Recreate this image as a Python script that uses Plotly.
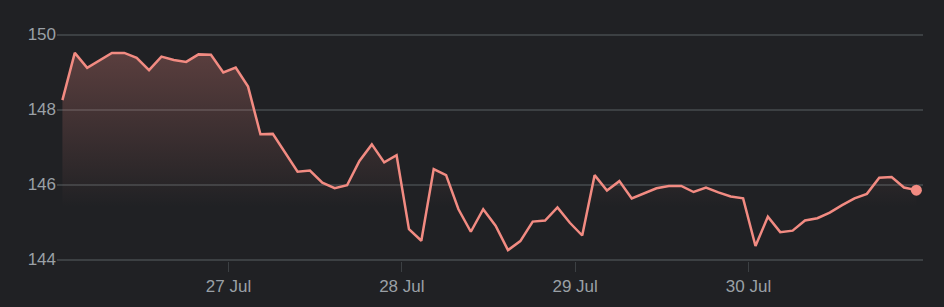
import pandas as pd
import plotly.graph_objects as go

# ---- data ----
prices = [
    148.25, 149.51, 149.11, 149.32, 149.51, 149.51, 149.38, 149.05, 149.41, 149.32,
    149.27, 149.47, 149.46, 148.99, 149.12, 148.61, 147.34, 147.35, 146.83, 146.34,
    146.37, 146.05, 145.90, 145.98, 146.63, 147.07, 146.59, 146.78, 144.81, 144.50,
    146.41, 146.25, 145.34, 144.74, 145.34, 144.90, 144.25, 144.49, 145.01, 145.04,
    145.39, 144.98, 144.64, 146.25, 145.84, 146.09, 145.63, 145.77, 145.90, 145.96,
    145.96, 145.80, 145.92, 145.79, 145.68, 145.63, 144.36, 145.14, 144.73, 144.77,
    145.04, 145.10, 145.25, 145.45, 145.63, 145.75, 146.18, 146.20, 145.92, 145.85,
]
times = pd.date_range(start="2024-07-26 01:00", end="2024-07-30 23:15", periods=len(prices))

tick_dates = ["2024-07-27", "2024-07-28", "2024-07-29", "2024-07-30"]
tick_labels = ["27 Jul", "28 Jul", "29 Jul", "30 Jul"]
y_ticks = [144, 146, 148, 150]
y_tick_labels = ["144", "146", "148", "150"]

# ---- style ----
BG = "#202124"
LINE = "#f28b82"
GRID = "#3c4043"
TEXT = "#9aa0a6"

fig = go.Figure()
fig.add_trace(go.Scatter(
    x=times, y=prices, mode="lines",
    line=dict(color=LINE, width=2.5),
    fill="tozeroy",
    fillgradient=dict(
        type="vertical", start=145.4, stop=149.55,
        colorscale=[[0, "rgba(242,139,130,0)"], [1, "rgba(242,139,130,0.28)"]],
    ),
    hoverinfo="skip",
))
fig.add_trace(go.Scatter(
    x=[times[-1]], y=[prices[-1]], mode="markers",
    marker=dict(color=LINE, size=11),
    hoverinfo="skip",
))

fig.update_layout(
    width=944, height=307,
    margin=dict(l=57, r=21, t=33, b=46),
    paper_bgcolor=BG, plot_bgcolor=BG,
    showlegend=False,
    font=dict(family="Liberation Sans, Arial, sans-serif", size=17, color=TEXT),
    hovermode=False,
)
fig.update_xaxes(
    range=["2024-07-26 00:15", "2024-07-31 00:10"],
    tickmode="array", tickvals=tick_dates, ticktext=tick_labels,
    showgrid=False, zeroline=False, showline=False,
    ticks="outside", ticklen=10, tickwidth=1, tickcolor=GRID,
)
fig.update_yaxes(
    range=[143.96, 150.04],
    tickmode="array", tickvals=y_ticks, ticktext=y_tick_labels,
    showgrid=True, gridcolor=GRID, gridwidth=1.5,
    zeroline=False, showline=False, ticks="",
)

fig.write_html("out.html")
